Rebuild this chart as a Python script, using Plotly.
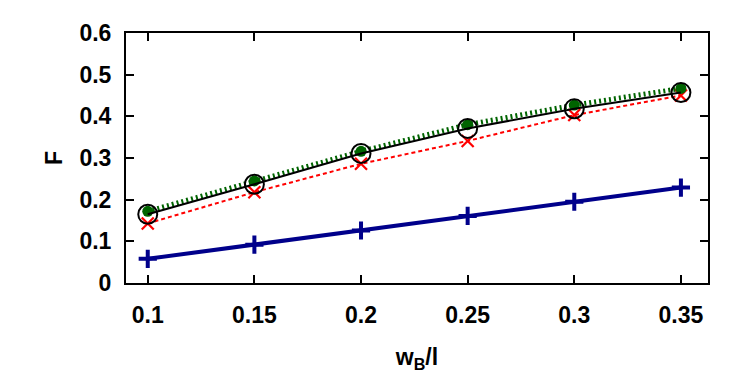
import plotly.graph_objects as go

x_vals = [0.1, 0.15, 0.2, 0.25, 0.3, 0.35]
blue_plus = [0.058, 0.092, 0.126, 0.161, 0.195, 0.229]
red_x = [0.143, 0.218, 0.286, 0.341, 0.403, 0.450]
green_dot = [0.172, 0.245, 0.316, 0.380, 0.427, 0.467]
black_circ = [0.165, 0.237, 0.311, 0.371, 0.418, 0.457]

x_ticks = [0.1, 0.15, 0.2, 0.25, 0.3, 0.35]
x_ticklabels = ["0.1", "0.15", "0.2", "0.25", "0.3", "0.35"]
y_ticks = [0, 0.1, 0.2, 0.3, 0.4, 0.5, 0.6]
y_ticklabels = ["0", "0.1", "0.2", "0.3", "0.4", "0.5", "0.6"]

fig = go.Figure()
fig.add_trace(go.Scatter(x=x_vals, y=blue_plus, mode="lines+markers",
    line=dict(color="#00008b", width=4),
    marker=dict(symbol="cross-thin", size=13, line=dict(color="#00008b", width=4))))
fig.add_trace(go.Scatter(x=x_vals, y=red_x, mode="lines+markers",
    line=dict(color="#ff0000", width=2, dash="4px,3px"),
    marker=dict(symbol="x-thin", size=12, line=dict(color="#ff0000", width=2.2))))
fig.add_trace(go.Scatter(x=x_vals, y=green_dot, mode="lines+markers",
    line=dict(color="#006400", width=5, dash="2px,3px"),
    marker=dict(symbol="circle", size=11, color="#006400")))
fig.add_trace(go.Scatter(x=x_vals, y=black_circ, mode="lines+markers",
    line=dict(color="#000000", width=2),
    marker=dict(symbol="circle-open", size=19, line=dict(color="#000000", width=2))))

font_family = "Liberation Sans, Arial, sans-serif"
fs = 23
fig.update_layout(
    width=739, height=384,
    margin=dict(l=118, r=39, t=25, b=109),
    paper_bgcolor="white", plot_bgcolor="white",
    showlegend=False,
    font=dict(family=font_family, size=fs, color="black"),
)
fig.update_xaxes(
    range=[0.0898, 0.3627], tickvals=x_ticks, ticktext=[f"<b>{t}</b>" for t in x_ticklabels],
    tickfont=dict(family=font_family, size=fs, color="black"),
    ticks="inside", ticklen=8, tickwidth=1.5, tickcolor="black",
    ticklabelstandoff=10,
    showline=True, linecolor="black", linewidth=2, mirror="allticks",
    showgrid=False, zeroline=False,
    title=dict(text="<b>w<sub>B</sub>/l</b>", font=dict(family=font_family, size=fs), standoff=22),
)
fig.update_yaxes(
    range=[0, 0.6], tickvals=y_ticks, ticktext=[f"<b>{t}</b>" for t in y_ticklabels],
    tickfont=dict(family=font_family, size=fs, color="black"),
    ticks="inside", ticklen=8, tickwidth=1.5, tickcolor="black",
    ticklabelstandoff=8,
    showline=True, linecolor="black", linewidth=2, mirror="allticks",
    showgrid=False, zeroline=False,
    title=dict(text="<b>F</b>", font=dict(family=font_family, size=fs), standoff=10),
)

fig.write_html("out.html")
